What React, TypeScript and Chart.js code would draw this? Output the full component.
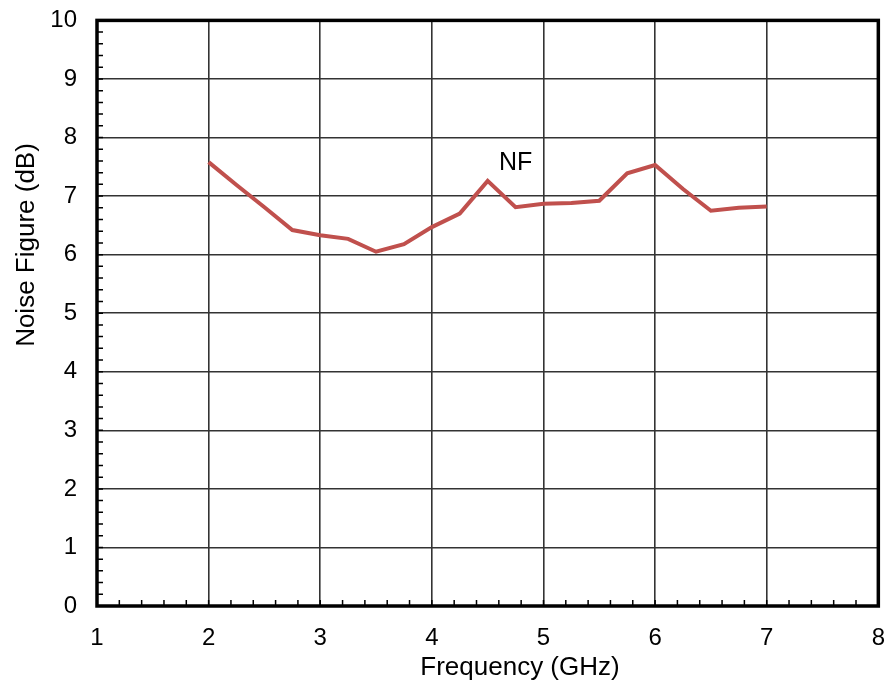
import { useEffect, useRef } from 'react';
import { Chart, registerables } from 'chart.js';

Chart.register(...registerables);

const frequencies = [2, 2.25, 2.5, 2.75, 3, 3.25, 3.5, 3.75, 4, 4.25, 4.5, 4.75, 5, 5.25, 5.5, 5.75, 6, 6.25, 6.5, 6.75, 7];
const noiseFigure = [7.58, 7.19, 6.81, 6.42, 6.33, 6.27, 6.05, 6.18, 6.47, 6.7, 7.26, 6.81, 6.87, 6.88, 6.92, 7.39, 7.53, 7.12, 6.75, 6.8, 6.82];
const seriesLabel = 'NF';
const seriesLabelPos = { x: 4.75, y: 7.56 };
const xTitle = 'Frequency (GHz)';
const yTitle = 'Noise Figure (dB)';
const xMin = 1, xMax = 8, yMin = 0, yMax = 10;
const minorStep = 0.2;

const FONT = '"Liberation Sans", Arial, sans-serif';

// canvas is larger than the page and shifted so the plot area lands where the reference has it
const CANVAS_W = 903;
const CANVAS_H = 702;
const SHIFT_Y = 14;

const decorPlugin = {
  id: 'decor',
  afterDraw(chart: any) {
    const { ctx, chartArea, scales } = chart;
    const { left, right, top, bottom } = chartArea;
    const xs = scales.x, ys = scales.y;
    ctx.save();
    // minor ticks
    ctx.strokeStyle = '#000';
    ctx.lineWidth = 1.5;
    ctx.beginPath();
    const nx = Math.round((xMax - xMin) / minorStep);
    for (let i = 1; i < nx; i++) {
      const px = xs.getPixelForValue(xMin + i * minorStep);
      ctx.moveTo(px, bottom);
      ctx.lineTo(px, bottom - 6);
    }
    const ny = Math.round((yMax - yMin) / minorStep);
    for (let i = 1; i < ny; i++) {
      const py = ys.getPixelForValue(yMin + i * minorStep);
      ctx.moveTo(left, py);
      ctx.lineTo(left + 6, py);
    }
    ctx.stroke();
    // frame
    ctx.lineWidth = 3.5;
    ctx.strokeStyle = '#000';
    ctx.strokeRect(left, top, right - left, bottom - top);
    // series label
    ctx.fillStyle = '#000';
    ctx.font = `25px ${FONT}`;
    ctx.textAlign = 'center';
    ctx.textBaseline = 'middle';
    ctx.fillText(seriesLabel, xs.getPixelForValue(seriesLabelPos.x), ys.getPixelForValue(seriesLabelPos.y));
    // axis titles
    ctx.font = `26px ${FONT}`;
    ctx.fillText(xTitle, 520, 668 + SHIFT_Y);
    ctx.translate(27, 245 + SHIFT_Y);
    ctx.rotate(-Math.PI / 2);
    ctx.fillText(yTitle, 0, 0);
    ctx.restore();
  },
};

export default function App() {
  const ref = useRef<HTMLCanvasElement | null>(null);
  useEffect(() => {
    if (!ref.current) return;
    const chart = new Chart(ref.current, {
      type: 'line',
      data: {
        datasets: [
          {
            label: seriesLabel,
            data: frequencies.map((f, i) => ({ x: f, y: noiseFigure[i] })),
            borderColor: '#C0504D',
            borderWidth: 4,
            pointRadius: 0,
            tension: 0,
            fill: false,
          },
        ],
      },
      options: {
        animation: false,
        responsive: false,
        layout: { padding: 0 },
        plugins: { legend: { display: false }, tooltip: { enabled: false } },
        scales: {
          x: {
            type: 'linear',
            min: xMin,
            max: xMax,
            afterFit(scale: any) { scale.height = 82; },
            ticks: { stepSize: 1, color: '#000', font: { family: FONT, size: 24 }, padding: 18 },
            grid: { color: '#333', lineWidth: 1.6, drawTicks: false },
            border: { display: false },
          },
          y: {
            type: 'linear',
            min: yMin,
            max: yMax,
            afterFit(scale: any) { scale.width = 97; },
            ticks: { stepSize: 1, color: '#000', font: { family: FONT, size: 24 }, padding: 20 },
            grid: { color: '#333', lineWidth: 1.6, drawTicks: false },
            border: { display: false },
          },
        },
      },
      plugins: [decorPlugin],
    });
    return () => chart.destroy();
  }, []);
  return (
    <div style={{ position: 'absolute', left: 0, top: 0, width: 888, height: 688, overflow: 'hidden', background: '#fff' }}>
      <canvas
        ref={ref}
        width={CANVAS_W}
        height={CANVAS_H}
        style={{ position: 'absolute', left: 0, top: -SHIFT_Y, display: 'block' }}
      />
    </div>
  );
}
